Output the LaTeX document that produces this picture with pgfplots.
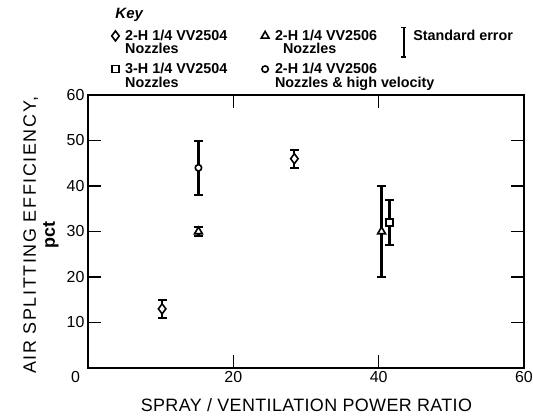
\documentclass[border=0pt]{standalone}
\usepackage{fontspec}
\setmainfont{Liberation Sans}
\newfontfamily\xlab[LetterSpace=2]{Liberation Sans}
\newfontfamily\ylab[LetterSpace=9]{Liberation Sans}
\usepackage{pgfplots}
\pgfplotsset{compat=1.18}
\begin{document}
\begin{tikzpicture}
\path[use as bounding box] (-88bp,-50bp) rectangle (445bp,368bp);
\begin{axis}[
  scale only axis, width=436bp, height=273bp,
  xmin=0, xmax=60, ymin=0, ymax=60,
  clip=false,
  xtick={0,20,40,60},
  xticklabels={\makebox[0pt][r]{0\hspace{8bp}},20,40,60},
  ytick={10,20,...,60},
  tick align=inside, major tick length=13bp,
  every tick/.style={black, line width=1.6bp},
  axis line style={line width=2.4bp},
  /pgf/number format/assume math mode=true,
  tick label style={font=\fontsize{16}{16}\selectfont},
  xlabel={\xlab SPRAY / VENTILATION POWER RATIO},
  xlabel style={at={(axis description cs:0.501,-0.1355)}, anchor=center, font=\fontsize{18}{18}\selectfont},
  ylabel={{\ylab AIR SPLITTING EFFICIENCY,}\\{\bfseries pct}},
  ylabel style={at={(axis description cs:-0.108,0.486)}, anchor=center, align=center, font=\fontsize{18}{19}\selectfont},
  legend columns=3,
  legend cell align=left,
  legend style={at={(0.054,1.252)}, anchor=north west, draw=none, fill=none, inner sep=0pt,
    column sep=4bp, row sep=3bp, font=\bfseries\fontsize{14.4}{13.5}\selectfont},
  error bars/error bar style={line width=2.2bp},
  error bars/error mark options={rotate=90, mark size=4.5bp, line width=2bp},
]
\addplot[only marks, mark=diamond*, mark size=5bp, mark options={fill=white, line width=1.6bp},
  error bars/.cd, y dir=both, y explicit]
  table[y error=e] {
x y e
10.2 13 2
28.4 46 2
};
\addlegendentry{\parbox[t]{130bp}{2-H 1/4 VV2504\\Nozzles}}
\addplot[only marks, mark=triangle*, mark size=4.5bp, mark options={fill=white, line width=1.6bp},
  error bars/.cd, y dir=both, y explicit]
  table[y error=e] {
x y e
15.2 30 1
40.4 30 9.9
};
\addlegendentry{\parbox[t]{119bp}{2-H 1/4 VV2506\\\hspace*{8bp}Nozzles}}
\addlegendimage{legend image code/.code={
  \draw[line width=2bp] (0.3cm,-0.75cm)--(0.3cm,0.3cm);
  \draw[line width=1.6bp] (0.2cm,-0.75cm)--(0.4cm,-0.75cm) (0.2cm,0.3cm)--(0.4cm,0.3cm);}}
\addlegendentry{Standard error}
\addplot[only marks, mark=square*, mark size=3.5bp, mark options={fill=white, line width=1.6bp},
  error bars/.cd, y dir=both, y explicit]
  table[y error=e] {
x y e
41.5 32 5
};
\addlegendentry{\parbox[t]{130bp}{3-H 1/4 VV2504\\Nozzles}}
\addplot[only marks, mark=*, mark size=3.2bp, mark options={fill=white, line width=1.6bp},
  error bars/.cd, y dir=both, y explicit]
  table[y error=e] {
x y e
15.2 44 6
};
\addlegendentry{\parbox[t]{119bp}{2-H 1/4 VV2506\\\mbox{Nozzles \& high velocity}}}
\node[anchor=west, font=\bfseries\itshape\fontsize{15}{15}\selectfont] at (rel axis cs:0.055,1.293) {Key};
\end{axis}
\end{tikzpicture}
\end{document}
